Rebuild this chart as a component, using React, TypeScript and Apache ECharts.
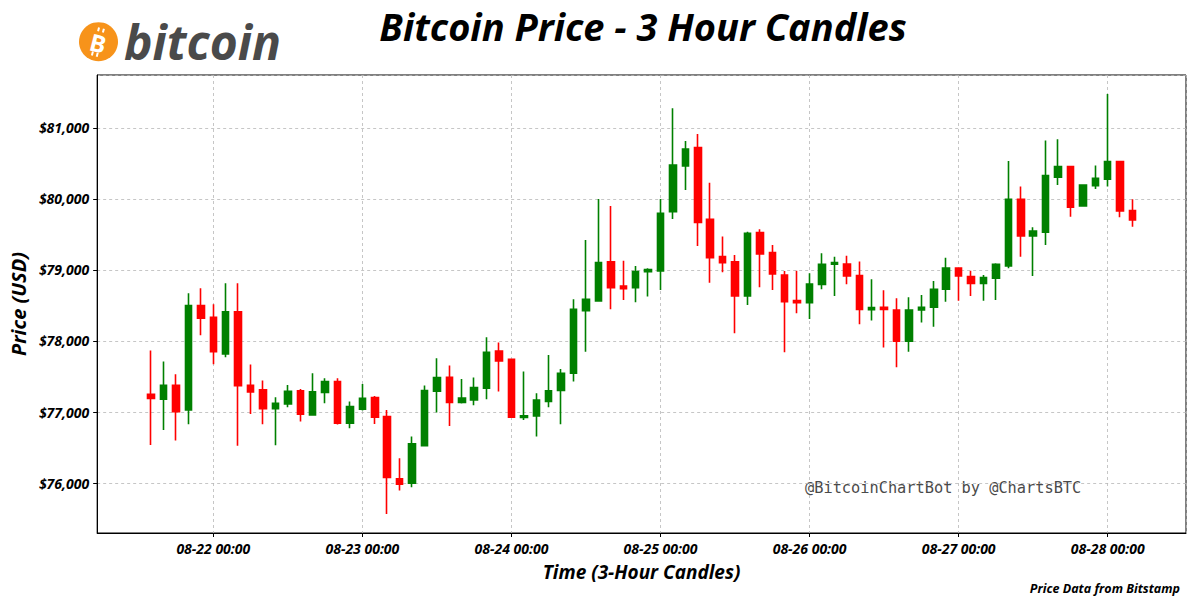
import React, { useEffect, useRef } from "react";
import * as echarts from "echarts";

// 2-hour candles starting 08-21 14:00
const START = { year: 2025, month: 7, day: 21, hour: 14 };
const STEP_HOURS = 2;

const opens = [
  77250, 77180, 77377, 77030, 78499, 78334, 77818, 78410, 77377, 77311,
  77048, 77114, 77297, 76959, 77274, 77428, 76842, 77039, 77203, 76936,
  76058, 75997, 76527, 77292, 77489, 77133, 77170, 77335, 77860, 77743,
  76922, 76945, 77147, 77302, 77546, 78427, 78564, 79117, 78775, 78751,
  78977, 78986, 79821, 80465, 80723, 79713, 79188, 79117, 78634, 79526,
  79244, 78930, 78568, 78540, 78798, 79080, 79085, 78920, 78442, 78474,
  78437, 77998, 78437, 78475, 78728, 79028, 78906, 78812, 78883, 79057,
  79995, 79479, 79531, 80305, 80455, 79901, 80188, 80277, 80526, 79836,
];
const closes = [
  77190, 77377, 77006, 78499, 78320, 77851, 78410, 77372, 77283, 77048,
  77123, 77292, 76968, 77283, 77428, 76842, 77076, 77194, 76926, 76077,
  75983, 76551, 77302, 77485, 77133, 77198, 77344, 77841, 77719, 76926,
  76945, 77170, 77297, 77546, 78446, 78587, 79103, 78751, 78737, 78977,
  79005, 79798, 80479, 80704, 79671, 79174, 79103, 78634, 79516, 79225,
  78944, 78554, 78540, 78803, 79080, 79104, 78916, 78446, 78470, 78446,
  77998, 78437, 78475, 78728, 79028, 78916, 78812, 78892, 79080, 79995,
  79479, 79549, 80329, 80455, 79883, 80197, 80291, 80526, 79831, 79704,
];
const highs = [
  77865, 77710, 77532, 78672, 78743, 78518, 78813, 78813, 77668, 77443,
  77208, 77382, 77325, 77546, 77475, 77475, 77147, 77396, 77227, 77029,
  76349, 76654, 77372, 77757, 77654, 77466, 77485, 78053, 77978, 77750,
  77569, 77264, 77804, 77607, 78587, 79423, 80000, 79901, 79131, 79056,
  79024, 80000, 81277, 80817, 80915, 80230, 79470, 79211, 79540, 79573,
  79352, 78986, 78991, 78953, 79235, 79188, 79202, 79118, 78869, 78714,
  78601, 78615, 78648, 78845, 79174, 79033, 78991, 78930, 79094, 80535,
  80174, 79601, 80822, 80840, 80460, 80207, 80470, 81479, 80530, 79995,
];
const lows = [
  76537, 76748, 76598, 76828, 78081, 77673, 77771, 76523, 76973, 76828,
  76532, 77067, 76865, 76950, 77123, 76823, 76771, 77020, 76832, 75565,
  75893, 75940, 76518, 76992, 76804, 77120, 77095, 77180, 77288, 76920,
  76889, 76654, 77067, 76828, 77428, 77850, 78554, 78446, 78578, 78545,
  78625, 78718, 79718, 80127, 79338, 78822, 78967, 78108, 78507, 78756,
  78718, 77841, 78390, 78310, 78728, 78634, 78798, 78235, 78287, 77907,
  77630, 77850, 78259, 78202, 78554, 78568, 78634, 78568, 78578, 79024,
  79188, 78916, 79352, 80197, 79751, 79892, 80141, 80174, 79742, 79610,
];

const UP = "#008000";
const DOWN = "#ff0000";
const FONT = "'Open Sans', 'DejaVu Sans', sans-serif";

const pad = (n: number) => (n < 10 ? "0" + n : "" + n);

export default function App() {
  const ref = useRef<HTMLDivElement>(null);

  useEffect(() => {
    if (!ref.current) return;
    const chart = echarts.init(ref.current, undefined, { renderer: "svg" });

    const t0 = new Date(START.year, START.month, START.day, START.hour).getTime();
    const H = 3600 * 1000;
    const data = opens.map((o, i) => [t0 + i * STEP_HOURS * H, o, closes[i], lows[i], highs[i]]);
    const day22 = new Date(START.year, START.month, 22, 0).getTime();
    const xMin = day22 - 18.7 * H;
    const xMax = day22 + 156.6 * H;

    const italicBold = { fontFamily: FONT, fontWeight: "bold" as const, fontStyle: "italic" as const };

    chart.setOption({
      animation: false,
      backgroundColor: "#ffffff",
      grid: {
        left: 95,
        right: 13,
        top: 75,
        bottom: 71,
        show: true,
        borderColor: "#000",
        borderWidth: 1,
        containLabel: false,
      },
      xAxis: {
        type: "time",
        min: xMin,
        max: xMax,
        minInterval: 24 * H,
        maxInterval: 24 * H,
        name: "Time (3-Hour Candles)",
        nameLocation: "middle",
        nameGap: 29,
        nameTextStyle: { ...italicBold, fontSize: 19, color: "#000" },
        axisLine: { show: true, lineStyle: { color: "#000", width: 1 } },
        axisTick: { show: true, length: 4, lineStyle: { color: "#000" } },
        axisLabel: {
          ...italicBold,
          fontSize: 14,
          color: "#000",
          margin: 8,
          showMinLabel: false,
          showMaxLabel: false,
          hideOverlap: false,
          formatter: (v: number) => {
            const d = new Date(v);
            return `${pad(d.getMonth() + 1)}-${pad(d.getDate())} ${pad(d.getHours())}:${pad(d.getMinutes())}`;
          },
        },
        splitLine: { show: true, lineStyle: { color: "#b8b8b8", type: [3, 3], width: 0.8 } },
        minorTick: { show: false },
      },
      yAxis: {
        type: "value",
        min: 75296,
        max: 81746,
        minInterval: 1000,
        maxInterval: 1000,
        scale: true,
        name: "Price (USD)",
        nameLocation: "middle",
        nameGap: 63,
        nameTextStyle: { ...italicBold, fontSize: 20, color: "#000" },
        axisLine: { show: true, lineStyle: { color: "#000", width: 1 } },
        axisTick: { show: true, length: 4, lineStyle: { color: "#000" } },
        axisLabel: {
          ...italicBold,
          fontSize: 14,
          color: "#000",
          margin: 8,
          showMinLabel: false,
          showMaxLabel: false,
          formatter: (v: number) => "$" + Math.round(v).toLocaleString("en-US"),
        },
        splitLine: { show: true, lineStyle: { color: "#b8b8b8", type: [3, 3], width: 0.8 } },
      },
      series: [
        {
          type: "candlestick",
          data,
          encode: { x: 0, y: [1, 2, 3, 4] },
          barWidth: 7,
          itemStyle: {
            color: UP,
            color0: DOWN,
            borderColor: UP,
            borderColor0: DOWN,
            borderWidth: 1.6,
          },
        },
      ],
      graphic: [
        {
          type: "text",
          x: 643,
          y: 26,
          style: {
            text: "Bitcoin Price - 3 Hour Candles",
            fill: "#000",
            font: `italic bold 38px ${FONT}`,
            align: "center",
            verticalAlign: "middle",
          },
        },
        {
          type: "circle",
          shape: { cx: 98.5, cy: 41.7, r: 19.5 },
          style: { fill: "#f7931a" },
        },
        {
          type: "group",
          x: 98.5,
          y: 41.7,
          rotation: -0.25,
          children: [
            {
              type: "text",
              x: 0,
              y: 1,
              style: {
                text: "B",
                fill: "#fff",
                font: `bold 24px ${FONT}`,
                align: "center",
                verticalAlign: "middle",
              },
            },
            { type: "rect", shape: { x: -4, y: -14, width: 2, height: 4 }, style: { fill: "#fff" } },
            { type: "rect", shape: { x: 1, y: -14, width: 2, height: 4 }, style: { fill: "#fff" } },
            { type: "rect", shape: { x: -4, y: 11, width: 2, height: 4 }, style: { fill: "#fff" } },
            { type: "rect", shape: { x: 1, y: 11, width: 2, height: 4 }, style: { fill: "#fff" } },
          ],
        },
        {
          type: "text",
          x: 124,
          y: 41,
          style: {
            text: "bitcoin",
            fill: "#4a4a4a",
            font: `italic bold 48px ${FONT}`,
            align: "left",
            verticalAlign: "middle",
          },
        },
        {
          type: "text",
          x: 805,
          y: 488,
          style: {
            text: "@BitcoinChartBot by @ChartsBTC",
            fill: "#4a4a4a",
            font: `15.3px 'DejaVu Sans Mono', monospace`,
            align: "left",
            verticalAlign: "middle",
          },
        },
        {
          type: "text",
          x: 1180,
          y: 588,
          style: {
            text: "Price Data from Bitstamp",
            fill: "#000",
            font: `italic bold 12.5px ${FONT}`,
            align: "right",
            verticalAlign: "middle",
          },
        },
      ],
    });

    return () => chart.dispose();
  }, []);

  return (
    <div
      ref={ref}
      style={{ position: "absolute", left: 0, top: 0, width: 1199, height: 604, background: "#fff" }}
    />
  );
}
